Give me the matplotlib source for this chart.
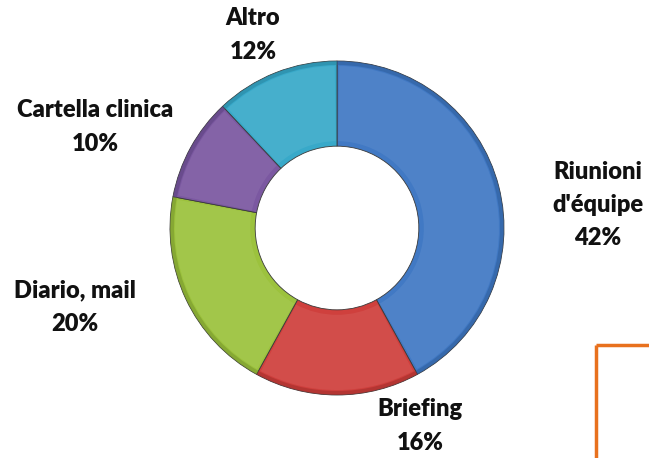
import numpy as np
import matplotlib.pyplot as plt
from matplotlib.patches import Wedge

# data
labels = ["Riunioni\nd'équipe", "Briefing", "Diario, mail", "Cartella clinica", "Altro"]
values = [42, 16, 20, 10, 12]
colors = ["#4179c4", "#cf403d", "#9cc23d", "#7b58a1", "#38a9c9"]
edge_cols = ["#2c5a96", "#9a2b29", "#72902a", "#58407a", "#27809a"]

# label positions in pixel coords (x, y from top)
label_pos = [(598, 205), (420, 426), (75, 307), (95, 127), (253, 35)]

W, H = 649, 458
fig = plt.figure(figsize=(W / 100, H / 100), dpi=100)
ax = fig.add_axes([0, 0, 1, 1])

cx, cy = 337, H - 228
R = 167
width = 0.51 * R

wedges, _ = ax.pie(values, colors=colors, startangle=90, counterclock=False,
                   center=(cx, cy), radius=R, frame=True,
                   wedgeprops=dict(width=width, edgecolor='#3a3a3a', linewidth=0.6))
ax.set_xlim(0, W)
ax.set_ylim(0, H)
ax.set_aspect('equal')
ax.axis('off')

# soft bevel: lighter band in the middle, darker rim on the outside
ang = 90
for v, c, ec in zip(values, colors, edge_cols):
    a2 = ang - v * 3.6
    ax.add_patch(Wedge((cx, cy), R - 5, a2 + 0.8, ang - 0.8, width=width - 10,
                       facecolor='white', alpha=0.07, edgecolor='none'))
    ax.add_patch(Wedge((cx, cy), R, a2, ang, width=4,
                       facecolor=ec, alpha=0.5, edgecolor='none'))
    ang = a2

for lab, v, (x, y) in zip(labels, values, label_pos):
    ax.text(x, H - y, lab + "\n%d%%" % v, ha='center', va='center',
            fontsize=17, fontweight='heavy', family='Lato', color='#111111',
            linespacing=1.62)

# orange frame corner at bottom right
ax.plot([596, W], [H - 345, H - 345], color='#e8711e', lw=2.5, solid_capstyle='butt')
ax.plot([596, 596], [H - 345, 0], color='#e8711e', lw=2.5, solid_capstyle='butt')

fig.savefig('out.png', dpi=100)
